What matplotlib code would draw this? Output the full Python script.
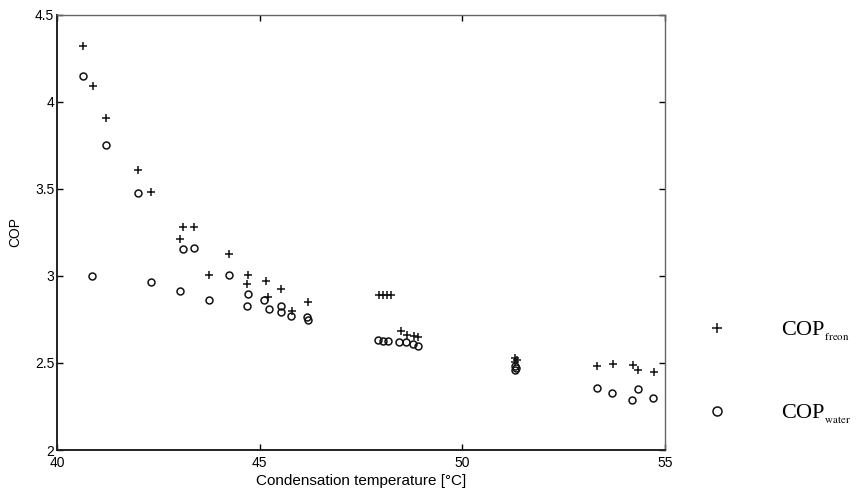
import matplotlib
import matplotlib.pyplot as plt

matplotlib.use('Agg')

plt.rcParams['mathtext.fontset'] = 'stix'

# COP vs condensation temperature
freon_x = [40.65, 40.90, 41.20, 42.01, 42.32, 43.11, 43.37, 43.03, 44.24, 43.75,
           44.72, 44.68, 45.15, 45.20, 45.54, 45.80, 46.20,
           47.95, 48.05, 48.15, 48.25, 48.49, 48.65, 48.80, 48.90,
           51.30, 51.36, 51.30, 53.32, 53.73, 54.22, 54.35, 54.74]
freon_y = [4.32, 4.09, 3.905, 3.61, 3.485, 3.28, 3.28, 3.21, 3.125, 3.005,
           3.005, 2.955, 2.97, 2.88, 2.925, 2.80, 2.85,
           2.89, 2.892, 2.89, 2.888, 2.685, 2.66, 2.655, 2.65,
           2.53, 2.52, 2.505, 2.483, 2.494, 2.489, 2.46, 2.45]

water_x = [40.64, 41.20, 42.00, 40.87, 42.32, 43.11, 43.37, 43.03, 43.75, 44.24,
           44.71, 44.68, 45.11, 45.23, 45.53, 45.53, 45.78, 46.18, 46.20,
           47.92, 48.05, 48.18, 48.44, 48.61, 48.78, 48.90,
           51.30, 51.34, 51.30, 53.32, 53.71, 54.33, 54.20, 54.72]
water_y = [4.15, 3.755, 3.475, 3.00, 2.967, 3.155, 3.16, 2.915, 2.86, 3.005,
           2.895, 2.83, 2.862, 2.808, 2.83, 2.795, 2.77, 2.763, 2.745,
           2.632, 2.628, 2.625, 2.622, 2.62, 2.61, 2.60,
           2.48, 2.47, 2.46, 2.358, 2.33, 2.349, 2.287, 2.30]

x_ticks = [40, 45, 50, 55]
y_ticks = [2, 2.5, 3, 3.5, 4, 4.5]
y_tick_labels = ['2', '2.5', '3', '3.5', '4', '4.5']

fig = plt.figure(figsize=(8.67, 4.94), dpi=100)
ax = fig.add_axes([0.0657, 0.089, 0.701, 0.881])

ax.plot(freon_x, freon_y, '+', color='#111111', markersize=6, markeredgewidth=1.1,
        label=r'COP$_{_{\mathrm{freon}}}$')
ax.plot(water_x, water_y, 'o', color='#111111', markersize=5, markeredgewidth=1.1,
        fillstyle='none', label=r'COP$_{_{\mathrm{water}}}$')

ax.set_xlim(40, 55)
ax.set_ylim(2, 4.5)
ax.set_xticks(x_ticks)
ax.set_xticklabels([str(t) for t in x_ticks])
ax.set_yticks(y_ticks)
ax.set_yticklabels(y_tick_labels)
ax.tick_params(direction='in', length=4, width=1, top=True, right=True,
               labelsize=10, pad=2)
ax.tick_params(axis='x', pad=4)
for lab in ax.get_xticklabels() + ax.get_yticklabels():
    lab.set_family('Liberation Sans')

for side in ['left', 'bottom']:
    ax.spines[side].set_linewidth(1.4)
    ax.spines[side].set_color('#222222')
for side in ['top', 'right']:
    ax.spines[side].set_linewidth(1.0)
    ax.spines[side].set_color('#666666')

ax.set_xlabel('Condensation temperature [°C]', family='Liberation Sans', fontsize=11, labelpad=3)
ax.set_ylabel('COP', family='Liberation Sans', fontsize=10, labelpad=9)

ax.legend(loc='upper left', bbox_to_anchor=(1.027, 0.345), frameon=False,
          prop={'family': 'Liberation Serif', 'size': 16},
          labelspacing=2.7, handletextpad=2.2, handlelength=1.4, markerscale=1.3)

plt.savefig('out.png', dpi=100)
plt.close(fig)
